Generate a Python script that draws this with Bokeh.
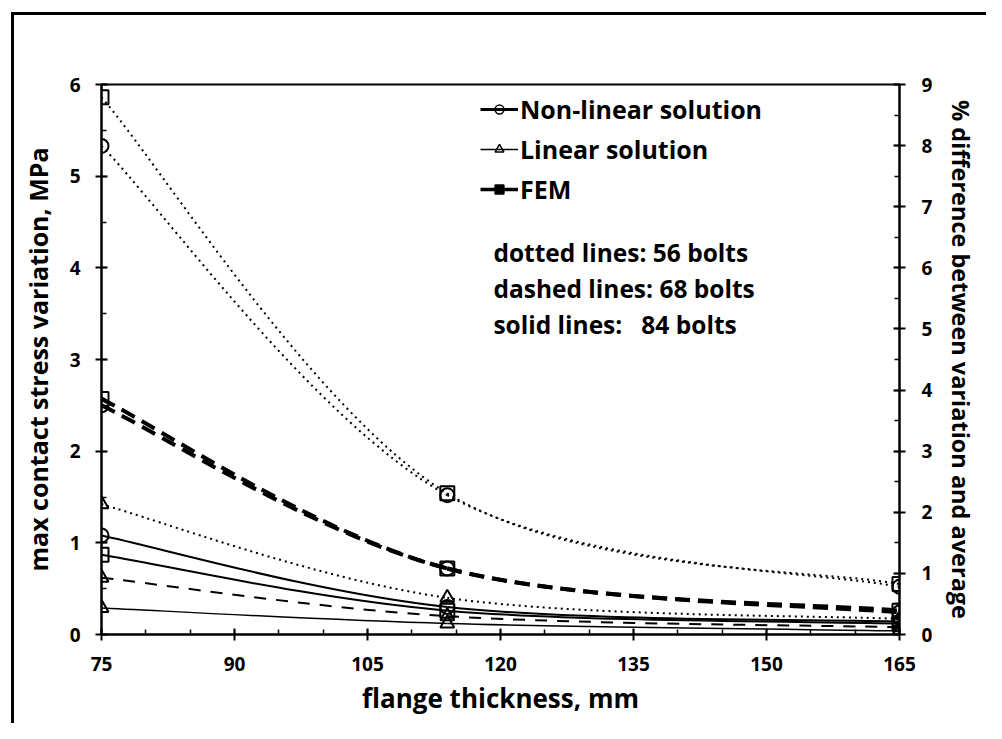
import numpy as np
from bokeh.plotting import figure
from bokeh.models import (Range1d, LinearAxis, Label, Legend, LegendItem,
                          FixedTicker, ColumnDataSource)
from bokeh.embed import file_html
from bokeh.resources import INLINE

# ---------------- data ----------------
thickness = [75, 114, 165]

nonlinear_56 = [5.33, 1.52, 0.52]
linear_56 = [1.42, 0.40, 0.17]
fem_56 = [5.86, 1.54, 0.55]

nonlinear_68 = [2.50, 0.72, 0.24]
linear_68 = [0.62, 0.20, 0.08]
fem_68 = [2.57, 0.72, 0.26]

nonlinear_84 = [1.08, 0.30, 0.14]
linear_84 = [0.29, 0.12, 0.04]
fem_84 = [0.87, 0.26, 0.12]

x_ticks = [75, 90, 105, 120, 135, 150, 165]
y_left_ticks = [0, 1, 2, 3, 4, 5, 6]
y_right_ticks = [0, 1, 2, 3, 4, 5, 6, 7, 8, 9]

legend_labels = ["Non-linear solution", "Linear solution", "FEM"]
notes = ["dotted lines: 56 bolts", "dashed lines: 68 bolts", "solid lines:\u00a0\u00a0\u00a084 bolts"]

FONT = "Open Sans"

p = figure(width=986, height=723, output_backend="svg", toolbar_location=None,
           x_range=Range1d(75, 165), y_range=Range1d(0, 6),
           min_border_left=101, min_border_right=87, min_border_top=84, min_border_bottom=89)
p.extra_y_ranges = {"pct": Range1d(0, 9)}

# outer frame of the picture (left and top edges) drawn behind a transparent canvas border
p.border_fill_alpha = 0
p.styles = {"background-color": "white",
            "box-shadow": "inset 11px 12px 0 0 white, inset 14px 15px 0 0 black"}

p.grid.visible = False
p.outline_line_color = "black"
p.outline_line_width = 2
p.background_fill_color = "white"


def style_axis(ax, label, size):
    ax.axis_label = label
    ax.axis_label_text_font = FONT
    ax.axis_label_text_font_size = size
    ax.axis_label_text_font_style = "bold"
    ax.axis_label_text_color = "black"
    ax.major_label_text_font = FONT
    ax.major_label_text_font_size = "19px"
    ax.major_label_text_font_style = "bold"
    ax.major_label_text_color = "black"
    ax.axis_line_color = "black"
    ax.axis_line_width = 2
    ax.major_tick_line_color = "black"
    ax.major_tick_line_width = 2
    ax.minor_tick_line_color = "black"
    ax.minor_tick_line_width = 1.5
    ax.major_tick_in = 6
    ax.major_tick_out = 6
    ax.minor_tick_in = 5
    ax.minor_tick_out = 0


xax = p.xaxis[0]
style_axis(xax, "flange thickness, mm", "26px")
xax.ticker = FixedTicker(ticks=x_ticks, minor_ticks=list(range(75, 166, 5)))
xax.major_label_standoff = 16
xax.axis_label_standoff = 6

yax = p.yaxis[0]
style_axis(yax, "max contact stress variation, MPa", "25px")
yax.ticker = FixedTicker(ticks=y_left_ticks, minor_ticks=list(np.arange(0, 6.01, 0.5)))
yax.major_label_standoff = 15
yax.axis_label_standoff = 12

rax = LinearAxis(y_range_name="pct")
style_axis(rax, "% difference between variation and average", "23.5px")
rax.ticker = FixedTicker(ticks=y_right_ticks, minor_ticks=list(np.arange(0, 9.01, 0.5)))
rax.major_label_standoff = 16
rax.axis_label_standoff = 10
p.add_layout(rax, "right")


def smooth(x, y):
    x = np.asarray(x, float)
    y = np.asarray(y, float)
    xp = np.concatenate([[x[0]], x, [x[-1]]])
    yp = np.concatenate([[y[0]], y, [y[-1]]])
    n = len(x)
    d = dict(x0=[], y0=[], x1=[], y1=[], cx0=[], cy0=[], cx1=[], cy1=[])
    for i in range(n - 1):
        P0x, P1x, P2x, P3x = xp[i], xp[i + 1], xp[i + 2], xp[i + 3]
        P0y, P1y, P2y, P3y = yp[i], yp[i + 1], yp[i + 2], yp[i + 3]
        d["x0"].append(P1x); d["y0"].append(P1y)
        d["x1"].append(P2x); d["y1"].append(P2y)
        d["cx0"].append(P1x + (P2x - P0x) / 6); d["cy0"].append(P1y + (P2y - P0y) / 6)
        d["cx1"].append(P2x - (P3x - P1x) / 6); d["cy1"].append(P2y - (P3y - P1y) / 6)
    return ColumnDataSource(d)


def curve(y, width, dash):
    return p.bezier(x0="x0", y0="y0", x1="x1", y1="y1", cx0="cx0", cy0="cy0",
                    cx1="cx1", cy1="cy1", source=smooth(thickness, y),
                    line_color="black", line_width=width, line_dash=dash)


def markers(y, kind, size):
    return p.scatter(thickness, y, marker=kind, size=size, fill_color=None,
                     line_color="black", line_width=2)


series = [
    (fem_56, 2, "2 4", "square"),
    (nonlinear_56, 2, "2 4", "circle"),
    (linear_56, 2, "2 4", "triangle"),
    (fem_68, 4, "15 8", "square"),
    (nonlinear_68, 4, "15 8", "circle"),
    (linear_68, 2, "12 10", "triangle"),
    (nonlinear_84, 2, "solid", "circle"),
    (fem_84, 2, "solid", "square"),
    (linear_84, 1.5, "solid", "triangle"),
]
for vals, w, dash, kind in series:
    curve(vals, w, dash)
    markers(vals, kind, 14)

# legend proxies (hidden renderers, shown only as legend glyphs)
leg_items = []
for label, vals, kind, lw, fill in zip(legend_labels, [nonlinear_84, linear_84, fem_84],
                                       ["circle", "triangle", "square"],
                                       [3, 1.5, 3.5], [None, None, "black"]):
    lr = p.line(thickness, vals, line_color="black", line_width=lw, visible=False)
    sr = p.scatter(thickness, vals, marker=kind, fill_color=fill, line_color="black",
                   line_width=1.5, visible=False)
    leg_items.append(LegendItem(label=label, renderers=[lr, sr]))

legend = Legend(items=leg_items, location=(379, 428), orientation="vertical",
                background_fill_alpha=0, border_line_alpha=0, padding=0, margin=0,
                spacing=6, glyph_width=38, glyph_height=22, label_height=30,
                label_standoff=2, label_text_font=FONT, label_text_font_size="25px",
                label_text_font_style="bold", label_text_color="black",
                inactive_fill_alpha=0, click_policy="none")
p.add_layout(legend, "center")

note_y = [4.167, 3.774, 3.38]
for txt, yy in zip(notes, note_y):
    p.add_layout(Label(x=119.2, y=yy, text=txt, text_font=FONT, text_font_size="24.5px",
                       text_font_style="bold", text_color="black", text_baseline="middle"))

open("out.html", "w").write(file_html(p, INLINE))
